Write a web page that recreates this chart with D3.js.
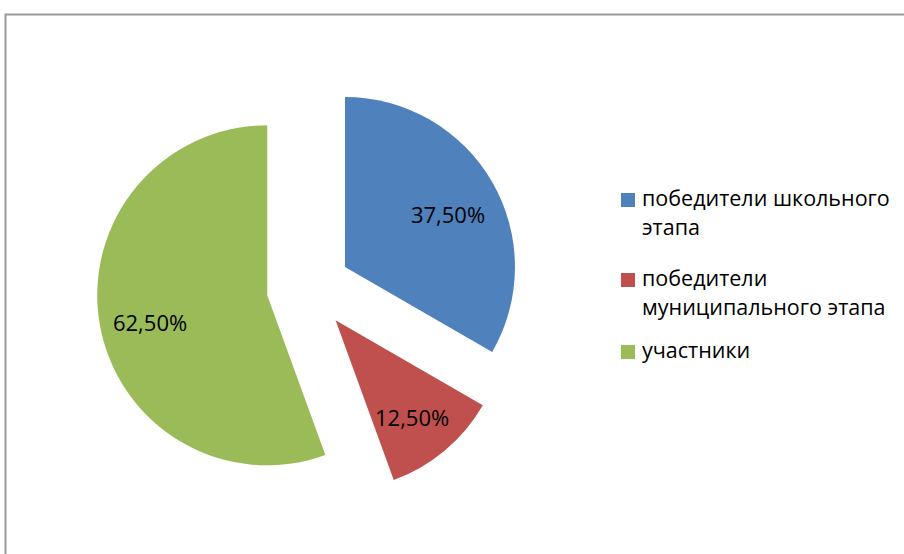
<!DOCTYPE html>
<html>
<head>
<meta charset="utf-8">
<script src="https://cdn.jsdelivr.net/npm/d3@7"></script>
<style>
  body { margin: 0; background: #fff; }
  svg { display: block; }
</style>
</head>
<body>
<div id="chart"></div>
<script>
// data
var categories = ["победители школьного этапа", "победители муниципального этапа", "участники"];
var values = [37.5, 12.5, 62.5];
var valueLabels = ["37,50%", "12,50%", "62,50%"];
var legendLines = [["победители школьного", "этапа"], ["победители", "муниципального этапа"], ["участники"]];
var colors = ["#4F81BD", "#C0504D", "#9BBB59"];

var width = 904, height = 554;
var cx = 308.6, cy = 288, radius = 170, explode = 42;

var svg = d3.select("#chart").append("svg")
    .attr("width", width)
    .attr("height", height);

// frame
svg.append("rect")
    .attr("x", 5.5).attr("y", 14.5)
    .attr("width", 1000).attr("height", 700)
    .attr("fill", "none")
    .attr("stroke", "#9a9a9a")
    .attr("stroke-width", 2);

var color = d3.scaleOrdinal().domain(categories).range(colors);

var pie = d3.pie().sort(null).value(function(d) { return d; });
var arcs = pie(values);

var arc = d3.arc().innerRadius(0).outerRadius(radius);
var labelArc = d3.arc().innerRadius(radius * 0.7).outerRadius(radius * 0.7);

var slices = svg.selectAll(".slice")
    .data(arcs)
    .enter().append("g")
    .attr("class", "slice")
    .attr("transform", function(d) {
        var a = (d.startAngle + d.endAngle) / 2;
        return "translate(" + (cx + explode * Math.sin(a)) + "," + (cy - explode * Math.cos(a)) + ")";
    });

slices.append("path")
    .attr("d", arc)
    .attr("fill", function(d, i) { return color(categories[i]); });

slices.append("text")
    .attr("transform", function(d) { return "translate(" + labelArc.centroid(d) + ")"; })
    .attr("dy", 15)
    .attr("text-anchor", "middle")
    .attr("font-family", "Open Sans, sans-serif")
    .attr("font-size", 22)
    .attr("fill", "#000")
    .text(function(d, i) { return valueLabels[i]; });

// legend
var legendX = 621;
var legendBase = [206, 286, 358];
var lineHeight = 29;

var legend = svg.selectAll(".legend")
    .data(categories)
    .enter().append("g")
    .attr("class", "legend")
    .attr("transform", function(d, i) { return "translate(" + legendX + "," + legendBase[i] + ")"; });

legend.append("rect")
    .attr("x", 0).attr("y", -13)
    .attr("width", 14).attr("height", 14)
    .attr("fill", function(d) { return color(d); });

legend.each(function(d, i) {
    var t = d3.select(this).append("text")
        .attr("font-family", "Open Sans, sans-serif")
        .attr("font-size", 21.5)
        .attr("fill", "#000");
    legendLines[i].forEach(function(line, j) {
        t.append("tspan")
            .attr("x", 21)
            .attr("y", j * lineHeight)
            .text(line);
    });
});
</script>
</body>
</html>
